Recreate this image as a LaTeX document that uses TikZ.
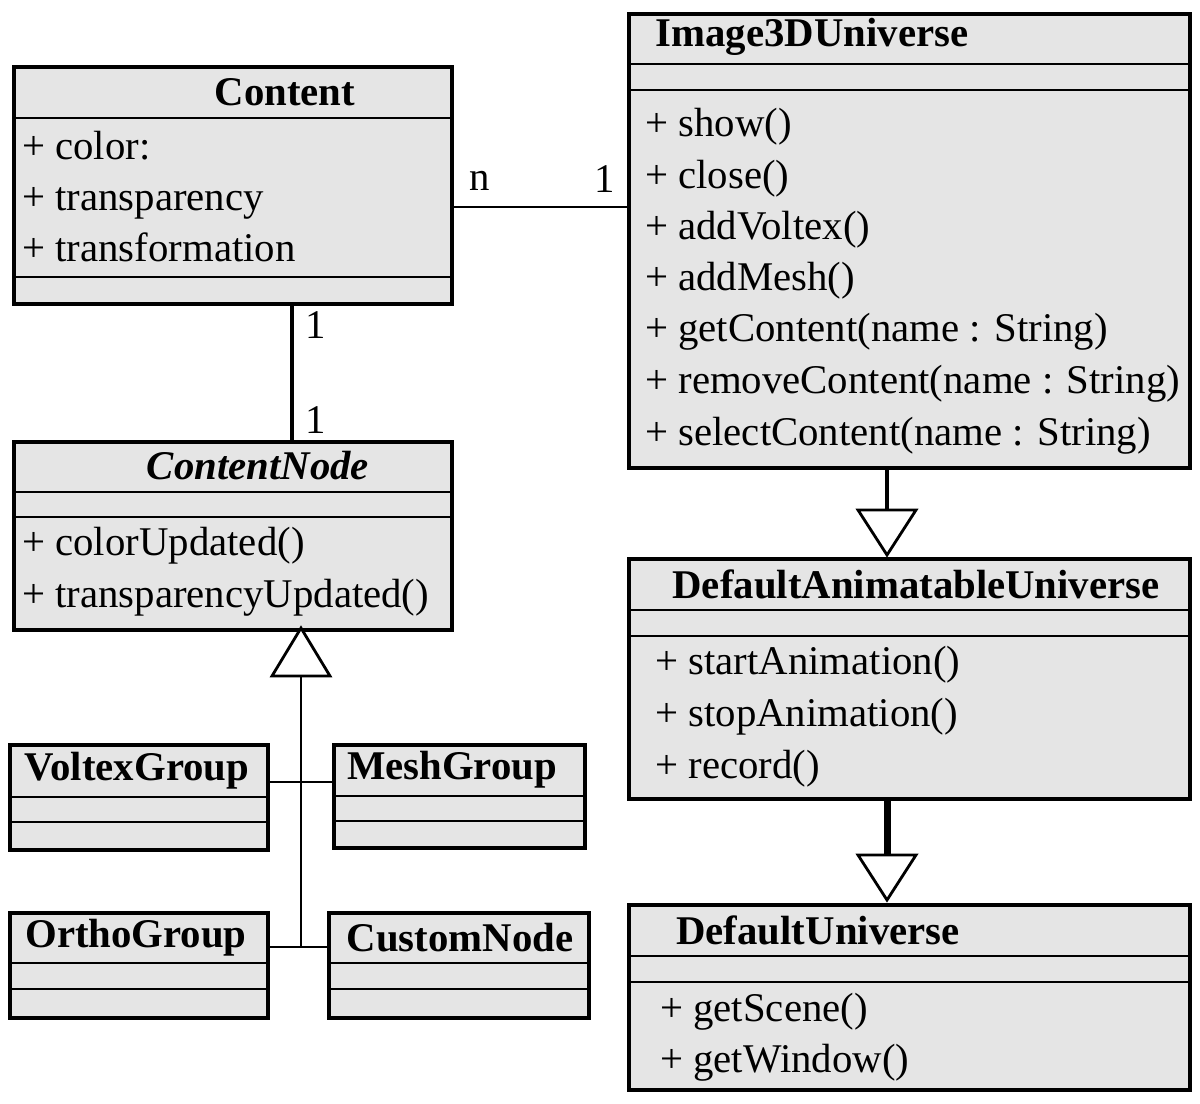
\documentclass[tikz,border=0pt]{standalone}
\usepackage{fontspec}
\setmainfont{Liberation Serif}
\begin{document}
\begin{tikzpicture}[x=0.025cm,y=-0.025cm,
  box/.style={draw,line width=2.5pt,fill=black!10,inner sep=0,anchor=north west},
  sep/.style={line width=2pt},
  ttl/.style={font=\fontsize{29}{34}\selectfont\bfseries,inner sep=0},
  itm/.style={font=\fontsize{29}{34}\selectfont,anchor=base west,inner sep=0},
  lbl/.style={font=\fontsize{29}{34}\selectfont,inner sep=0},
  conn/.style={line width=2pt},
  tri/.style={draw,line width=2pt,fill=white}]
\useasboundingbox (0,0) rectangle (1200,1103);
\newcommand\umlbox[5]{\node[box,minimum width={(#4-#2)*0.025cm},minimum height={(#5-#3)*0.025cm}] (#1) at (#2,#3) {};}
% Content
\umlbox{content}{12}{65}{450}{302}
\draw[sep] (12,118)--(450,118) (12,277)--(450,277);
\node[ttl] (t1) at (285,92) {Content};
\node[itm] (c1) at (22,159) {+ color:};
\node[itm] (c2) at (22,210) {+ transparency};
\node[itm] (c3) at (22,261) {+ transformation};
% Image3DUniverse
\umlbox{img}{627}{12}{1188}{466}
\draw[sep] (627,64)--(1188,64) (627,90)--(1188,90);
\node[ttl] (t2) at (812,37) {Image3DUniverse};
\node[itm] (i1) at (645,137) {+ show()};
\node[itm] (i2) at (645,188) {+ close()};
\node[itm] (i3) at (645,239) {+ addVoltex()};
\node[itm] (i4) at (645,290) {+ addMesh()};
\node[itm] (i5) at (645,341) {+ getContent(name : String)};
\node[itm] (i6) at (645,393) {+ removeContent(name : String)};
\node[itm] (i7) at (645,445) {+ selectContent(name : String)};
% ContentNode
\umlbox{cnode}{12}{440}{450}{628}
\draw[sep] (12,492)--(450,492) (12,517)--(450,517);
\node[ttl,font=\fontsize{29}{34}\selectfont\bfseries\itshape] (t3) at (258,466) {ContentNode};
\node[itm] (n1) at (22,555) {+ colorUpdated()};
\node[itm] (n2) at (22,607) {+ transparencyUpdated()};
% DAU
\umlbox{dau}{627}{557}{1188}{797}
\draw[sep] (627,610)--(1188,610) (627,636)--(1188,636);
\node[ttl] (t4) at (916,584) {DefaultAnimatableUniverse};
\node[itm] (d1) at (655,674) {+ startAnimation()};
\node[itm] (d2) at (655,726) {+ stopAnimation()};
\node[itm] (d3) at (655,778) {+ record()};
% DU
\umlbox{du}{627}{903}{1188}{1088}
\draw[sep] (627,956)--(1188,956) (627,982)--(1188,982);
\node[ttl] (t5) at (818,930) {DefaultUniverse};
\node[itm] (u1) at (660,1021) {+ getScene()};
\node[itm] (u2) at (660,1072) {+ getWindow()};
% small boxes
\umlbox{vg}{8}{743}{266}{848}
\draw[sep] (8,797)--(266,797) (8,822)--(266,822);
\node[ttl] (t6) at (137,771) {VoltexGroup};
\umlbox{mg}{332}{743}{583}{846}
\draw[sep] (332,796)--(583,796) (332,821)--(583,821);
\node[ttl] (t7) at (452,770) {MeshGroup};
\umlbox{og}{8}{911}{266}{1016}
\draw[sep] (8,963)--(266,963) (8,989)--(266,989);
\node[ttl] (t8) at (136,938) {OrthoGroup};
\umlbox{cn}{327}{911}{587}{1016}
\draw[sep] (327,963)--(587,963) (327,989)--(587,989);
\node[ttl] (t9) at (460,938) {CustomNode};
% associations
\coordinate (a1) at (450,207); \coordinate (a2) at (627,207);
\draw[conn] (a1)--(a2);
\node[lbl] (ln) at (480,181) {n};
\node[lbl] (l1) at (605,179) {1};
\coordinate (b1) at (292,302); \coordinate (b2) at (292,440);
\draw[line width=3pt] (b1)--(b2);
\node[lbl] (l2) at (316,325) {1};
\node[lbl] (l3) at (316,420) {1};
% inheritance ContentNode
\coordinate (p0) at (301,628);
\draw[tri] (p0)--(330,676)--(272,676)--cycle;
\coordinate (p1) at (301,676); \coordinate (p2) at (301,947);
\draw[conn] (p1)--(p2);
\draw[conn] (266,782)--(332,782);
\draw[conn] (266,947)--(327,947);
% Image -> DAU
\draw[line width=3pt] (887,466)--(887,510);
\draw[tri] (887,555)--(858,510)--(916,510)--cycle;
% DAU -> DU
\draw[line width=5pt] (887,797)--(887,855);
\draw[tri] (887,900)--(858,855)--(916,855)--cycle;
\end{tikzpicture}
\end{document}
